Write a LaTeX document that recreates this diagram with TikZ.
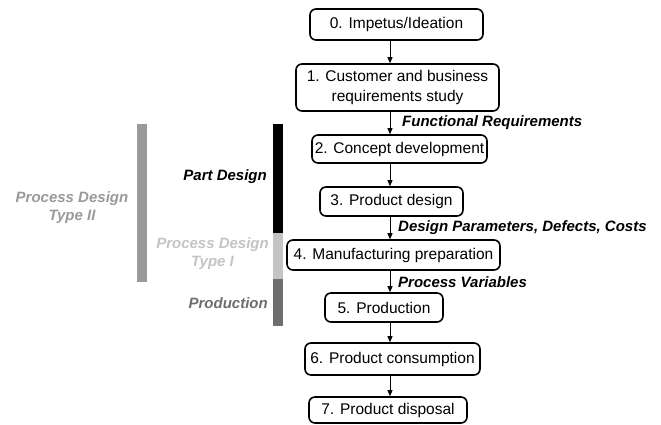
\documentclass[tikz,border=0pt]{standalone}
\usepackage{fontspec}
\setmainfont{Liberation Sans}
\usetikzlibrary{arrows.meta}
\definecolor{typetwo}{HTML}{9A9A9A}
\definecolor{typeone}{HTML}{C4C4C4}
\definecolor{prodgray}{HTML}{6E6E6E}
\tikzset{
  stage/.style={draw=black, line width=1.6pt, rounded corners=6pt, inner sep=0pt,
    font=\fontsize{15.5}{20}\selectfont, align=center},
  arr/.style={line width=0.8pt, -{Triangle[length=6pt,width=5pt]}},
  flowlbl/.style={font=\fontsize{15}{18}\selectfont\bfseries\itshape, anchor=west, inner sep=0pt},
  sidelbl/.style={font=\fontsize{15}{18}\selectfont\bfseries\itshape, align=center, inner sep=0pt},
  bar/.style={draw=none, inner sep=0pt}
}
\begin{document}
\begin{tikzpicture}[x=1pt,y=-1pt]
\useasboundingbox (0,0) rectangle (661,425);
\fill[white] (0,0) rectangle (661,425);

% stages
\node[stage, minimum width=173pt, minimum height=31pt] (b0) at (396.5,24.5) {0. Impetus/Ideation};
\node[stage, minimum width=203pt, minimum height=47pt] (b1) at (397.5,87.5) {1. Customer and business\\requirements study};
\node[stage, minimum width=175pt, minimum height=28pt] (b2) at (399.5,149) {2. Concept development};
\node[stage, minimum width=143pt, minimum height=29pt] (b3) at (391.5,201.5) {3. Product design};
\node[stage, minimum width=213pt, minimum height=30pt] (b4) at (393.5,255) {4. Manufacturing preparation};
\node[stage, minimum width=118pt, minimum height=29pt] (b5) at (384,307.5) {5. Production};
\node[stage, minimum width=175pt, minimum height=32pt] (b6) at (392.5,359) {6. Product consumption};
\node[stage, minimum width=158pt, minimum height=26pt] (b7) at (388,410) {7. Product disposal};

% arrows
\coordinate (ax) at (390,0);
\draw[arr] (b0.south -| ax) -- (b1.north -| ax);
\draw[arr] (b1.south -| ax) -- (b2.north -| ax);
\draw[arr] (b2.south -| ax) -- (b3.north -| ax);
\draw[arr] (b3.south -| ax) -- (b4.north -| ax);
\draw[arr] (b4.south -| ax) -- (b5.north -| ax);
\draw[arr] (b5.south -| ax) -- (b6.north -| ax);
\draw[arr] (b6.south -| ax) -- (b7.north -| ax);

% flow labels
\node[flowlbl] (fr) at (402,123) {Functional Requirements};
\node[flowlbl] (dp) at (398,228) {Design Parameters, Defects, Costs};
\node[flowlbl] (pv) at (398,282) {Process Variables};

% bars
\fill[typetwo] (137,124) rectangle (147,282);
\fill[black] (273,124) rectangle (283,233);
\fill[typeone] (273,233) rectangle (283,279);
\fill[prodgray] (273,279) rectangle (283,326);

% side labels
\node[sidelbl, text=typetwo] (l2) at (72,208) {Process Design\\Type II};
\node[sidelbl, text=black, anchor=east] (lp) at (267,177) {Part Design};
\node[sidelbl, text=typeone, anchor=east] (l1) at (269,254) {Process Design\\Type I};
\node[sidelbl, text=prodgray, anchor=east] (lpr) at (268,303) {Production};
\end{tikzpicture}
\end{document}
